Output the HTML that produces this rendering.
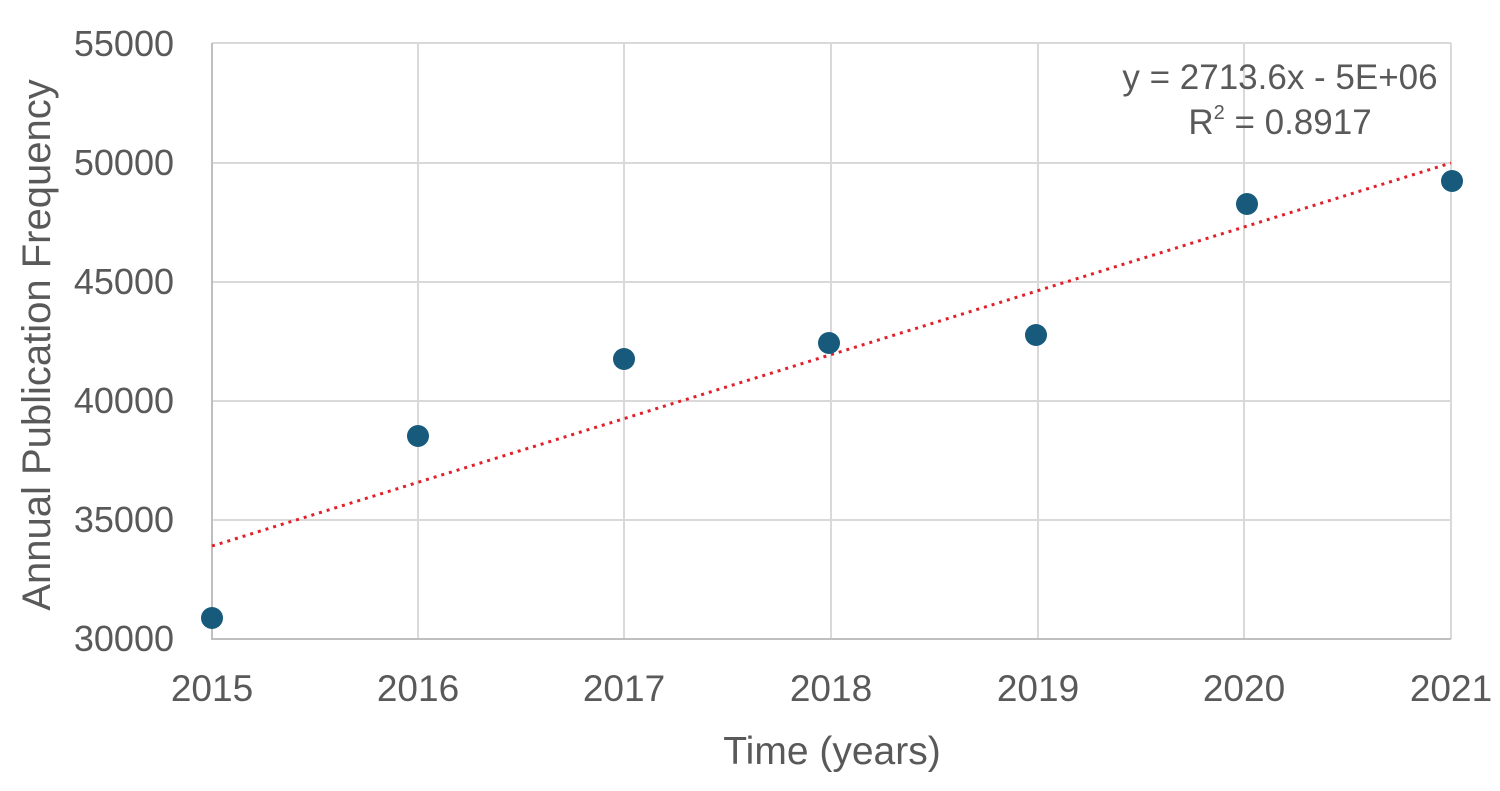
<!DOCTYPE html>
<html><head><meta charset="utf-8"><style>
html,body{margin:0;padding:0;background:#fff;}
svg text{font-family:"Liberation Sans",sans-serif;fill:#595959;}
</style></head><body>
<svg width="1500" height="786" viewBox="0 0 1500 786" xmlns="http://www.w3.org/2000/svg">
<g stroke="#d9d9d9" stroke-width="2">
<line x1="212" y1="43" x2="1451" y2="43"/>
<line x1="212" y1="163" x2="1451" y2="163"/>
<line x1="212" y1="282" x2="1451" y2="282"/>
<line x1="212" y1="401" x2="1451" y2="401"/>
<line x1="212" y1="520" x2="1451" y2="520"/>
<line x1="418" y1="43" x2="418" y2="639"/>
<line x1="624" y1="43" x2="624" y2="639"/>
<line x1="831" y1="43" x2="831" y2="639"/>
<line x1="1038" y1="43" x2="1038" y2="639"/>
<line x1="1244" y1="43" x2="1244" y2="639"/>
<line x1="1451" y1="43" x2="1451" y2="639"/>
</g>
<line x1="212" y1="43" x2="212" y2="640" stroke="#bfbfbf" stroke-width="2"/>
<line x1="211" y1="639" x2="1451" y2="639" stroke="#bfbfbf" stroke-width="2"/>
<g font-size="36" text-anchor="end">
<text x="174" y="56">55000</text>
<text x="174" y="175">50000</text>
<text x="174" y="294">45000</text>
<text x="174" y="413">40000</text>
<text x="174" y="532">35000</text>
<text x="174" y="651">30000</text>
</g>
<g font-size="37" text-anchor="middle">
<text x="212" y="701">2015</text>
<text x="418" y="701">2016</text>
<text x="624" y="701">2017</text>
<text x="831" y="701">2018</text>
<text x="1038" y="701">2019</text>
<text x="1244" y="701">2020</text>
<text x="1451" y="701">2021</text>
</g>
<text x="832" y="764" font-size="39" text-anchor="middle">Time (years)</text>
<text transform="translate(50,345) rotate(-90)" font-size="40" text-anchor="middle">Annual Publication Frequency</text>
<line x1="212" y1="546" x2="1451" y2="163" stroke="#e0202a" stroke-width="3" stroke-dasharray="3,5"/>
<g fill="#175a7c">
<circle cx="212" cy="618" r="11"/>
<circle cx="418" cy="436" r="11"/>
<circle cx="624" cy="359" r="11"/>
<circle cx="829" cy="343" r="11"/>
<circle cx="1036" cy="335" r="11"/>
<circle cx="1247" cy="204" r="11"/>
<circle cx="1452" cy="181" r="11"/>
</g>
<g font-size="35" text-anchor="middle">
<text x="1280" y="89">y = 2713.6x - 5E+06</text>
<text x="1280" y="134">R<tspan font-size="20" dy="-15">2</tspan><tspan dy="15"> = 0.8917</tspan></text>
</g>
</svg>
</body></html>
